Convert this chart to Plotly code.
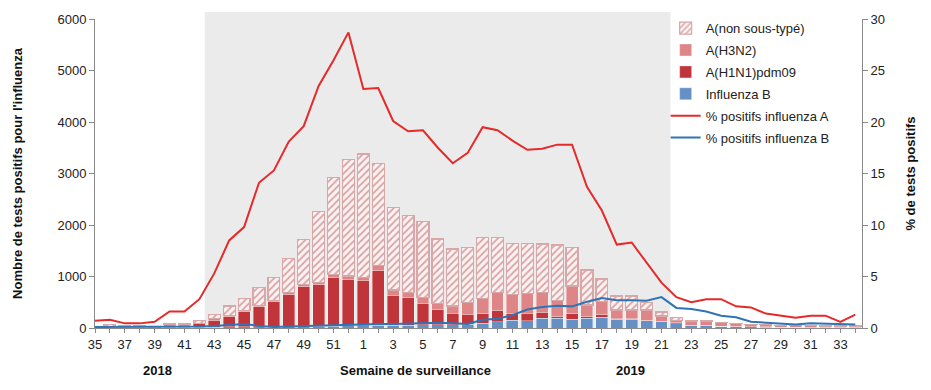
import plotly.graph_objects as go

weeks = list(range(35, 53)) + list(range(1, 35))

infl_B = [5, 10, 5, 5, 5, 10, 10, 10, 15, 20, 25, 20, 15, 20, 25, 30, 35, 40,
          45, 50, 50, 55, 60, 60, 60, 70, 90, 120, 150, 140, 188, 188, 169, 188, 205,
          169, 169, 142, 123, 85, 45, 45, 33, 25, 20, 15, 10, 10, 8, 8, 8, 8]
h1n1 = [0, 5, 5, 5, 5, 15, 15, 68, 140, 200, 292, 394, 496, 630, 778, 806, 943, 904,
        875, 1064, 586, 535, 420, 290, 225, 196, 185, 215, 135, 145, 117, 32, 103, 32,
        55, 19, 10, 13, 13, 15, 5, 5, 5, 5, 5, 5, 5, 5, 10, 5, 5, 10]
h3n2 = [10, 20, 15, 15, 10, 50, 50, 15, 25, 20, 25, 30, 30, 35, 47, 52, 66, 67,
        66, 97, 103, 104, 117, 130, 143, 234, 305, 355, 370, 389, 389, 311, 544, 227,
        248, 162, 171, 195, 97, 52, 82, 72, 62, 52, 44, 43, 27, 28, 25, 26, 26, 21]
non_sub = [15, 30, 20, 20, 12, 16, 16, 49, 79, 188, 235, 347, 445, 670, 861, 1367, 1886, 2268,
           2391, 1991, 1607, 1483, 1464, 1250, 1108, 1068, 1170, 1073, 991, 972, 939, 1082,
           752, 680, 442, 272, 272, 142, 77, 58, 10, 20, 5, 3, 3, 3, 10, 3, 3, 3, 3, 3]
pct_A = [0.7, 0.8, 0.45, 0.45, 0.6, 1.6, 1.6, 2.8, 5.3, 8.5, 9.8, 14.1, 15.3, 18.1, 19.6, 23.5, 26.0, 28.7,
         23.2, 23.3, 20.1, 19.1, 19.2, 17.5, 16.0, 17.0, 19.5, 19.2, 18.2, 17.3, 17.4, 17.8, 17.8,
         13.7, 11.4, 8.1, 8.3, 6.3, 4.4, 3.0, 2.5, 2.8, 2.8, 2.1, 2.0, 1.4, 1.2, 1.0, 1.2, 1.2, 0.6, 1.3]
pct_B = [0.1, 0.1, 0.1, 0.1, 0.1, 0.1, 0.1, 0.15, 0.2, 0.3, 0.4, 0.2, 0.1, 0.15, 0.2, 0.2, 0.25, 0.3,
         0.35, 0.4, 0.4, 0.45, 0.5, 0.5, 0.45, 0.4, 0.8, 0.9, 1.25, 1.8, 2.05, 2.15, 2.1,
         2.55, 2.9, 2.7, 2.7, 2.65, 3.0, 1.95, 1.85, 1.6, 1.2, 1.05, 0.6, 0.5, 0.45, 0.35, 0.45, 0.4, 0.35, 0.35]

x = list(range(len(weeks)))
tick_text = [str(w) if i % 2 == 0 else "" for i, w in enumerate(weeks)]

FONT = "Arial, Liberation Sans, sans-serif"

fig = go.Figure()

fig.add_trace(go.Bar(x=x, y=infl_B, name="Influenza B", legendrank=4, legendgroup="g4",
                     marker=dict(color="#6590c6", line=dict(color="rgba(255,255,255,0.6)", width=0.6))))
fig.add_trace(go.Bar(x=x, y=h1n1, name="A(H1N1)pdm09", legendrank=3, legendgroup="g3",
                     marker=dict(color="#c0353a", line=dict(color="rgba(255,255,255,0.6)", width=0.6))))
fig.add_trace(go.Bar(x=x, y=h3n2, name="A(H3N2)", legendrank=2, legendgroup="g2",
                     marker=dict(color="#de8587", line=dict(color="rgba(255,255,255,0.6)", width=0.6))))
fig.add_trace(go.Bar(x=x, y=non_sub, name="A(non sous-typé)", legendrank=1, legendgroup="g1",
                     marker=dict(color="#fbf1f1",
                                 line=dict(color="#d9a7a8", width=1.2),
                                 pattern=dict(shape="/", fgcolor="#dba3a4", bgcolor="#fbf3f3",
                                              size=5, solidity=0.35, fillmode="replace"))))
fig.add_trace(go.Scatter(x=x, y=pct_A, name="% positifs influenza A", yaxis="y2", mode="lines",
                         legendrank=5, legendgroup="g5",
                         line=dict(color="#e52a2a", width=2)))
fig.add_trace(go.Scatter(x=x, y=pct_B, name="% positifs influenza B", yaxis="y2", mode="lines",
                         legendrank=6, legendgroup="g6",
                         line=dict(color="#2f74b5", width=2)))

fig.add_shape(type="rect", xref="x", yref="paper", x0=7.36, x1=38.6, y0=0, y1=1.023,
              fillcolor="#ebebeb", line=dict(width=0), layer="below")

axis_col = "#8a8a8a"
# the page body has an 8px default margin, so the figure is 8px smaller than the window
fig.update_layout(
    width=923, height=382,
    margin=dict(l=87, r=69, t=11, b=62, autoexpand=False),
    paper_bgcolor="white", plot_bgcolor="white",
    barmode="stack", bargap=0.2,
    font=dict(family=FONT, size=13, color="#222"),
    showlegend=True,
    legend=dict(x=0.744, y=1.019, xanchor="left", yanchor="top",
                bgcolor="rgba(255,255,255,0)", borderwidth=0, tracegroupgap=2,
                font=dict(family=FONT, size=13, color="#222"),
                itemwidth=30),
    xaxis=dict(range=[0, 51.45], tickmode="array", tickvals=x, ticktext=tick_text,
               showline=True, linecolor=axis_col, linewidth=1,
               ticks="outside", ticklen=4, tickcolor=axis_col,
               showgrid=False, zeroline=False,
               tickfont=dict(family=FONT, size=13, color="#222")),
    yaxis=dict(range=[0, 6000], tickvals=[0, 1000, 2000, 3000, 4000, 5000, 6000],
               showline=True, linecolor=axis_col, linewidth=1,
               ticks="outside", ticklen=5, tickcolor=axis_col,
               showgrid=False, zeroline=False,
               tickfont=dict(family=FONT, size=13, color="#222"),
               title=dict(text="<b>Nombre de tests positifs pour l'influenza</b>",
                          font=dict(family=FONT, size=13, color="#111"), standoff=31)),
    yaxis2=dict(range=[0, 30], tickvals=[0, 5, 10, 15, 20, 25, 30], overlaying="y", side="right",
                showline=True, linecolor=axis_col, linewidth=1,
                ticks="outside", ticklen=5, tickcolor=axis_col,
                showgrid=False, zeroline=False,
                tickfont=dict(family=FONT, size=13, color="#222"),
                title=dict(text="<b>% de tests positifs</b>",
                           font=dict(family=FONT, size=13, color="#111"), standoff=21)),
)

for txt, xv in [("2018", 4.2), ("Semaine de surveillance", 21.5), ("2019", 35.9)]:
    fig.add_annotation(text=f"<b>{txt}</b>", x=xv, xref="x", y=-0.136, yref="paper",
                       showarrow=False, xanchor="center", yanchor="middle",
                       font=dict(family=FONT, size=13, color="#111"))

fig.write_html("out.html")
